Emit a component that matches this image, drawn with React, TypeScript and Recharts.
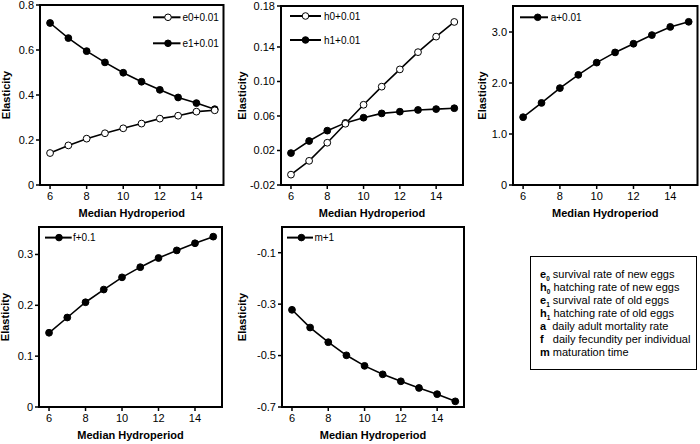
import React from 'react';
import { LineChart, Line, XAxis, YAxis, ReferenceArea, Legend } from 'recharts';

// ---------- data ----------
const hydroperiod = [6, 7, 8, 9, 10, 11, 12, 13, 14, 15];
const e0Values = [0.142, 0.176, 0.206, 0.230, 0.252, 0.273, 0.295, 0.308, 0.326, 0.332];
const e1Values = [0.720, 0.653, 0.595, 0.545, 0.499, 0.459, 0.423, 0.389, 0.364, 0.337];
const h0Values = [-0.008, 0.008, 0.029, 0.051, 0.073, 0.094, 0.114, 0.134, 0.152, 0.169];
const h1Values = [0.017, 0.031, 0.043, 0.052, 0.058, 0.063, 0.065, 0.067, 0.068, 0.069];
const aValues = [1.33, 1.61, 1.90, 2.16, 2.40, 2.60, 2.77, 2.94, 3.10, 3.20];
const fValues = [0.146, 0.176, 0.206, 0.231, 0.255, 0.275, 0.293, 0.308, 0.322, 0.335];
const mValues = [-0.322, -0.391, -0.448, -0.499, -0.540, -0.573, -0.600, -0.626, -0.650, -0.678];

const xTicks = [6, 8, 10, 12, 14];
const xDomain: [number, number] = [5.45, 15.48];

const ticksP1 = [0, 0.2, 0.4, 0.6, 0.8];
const labelsP1 = ['0', '0.2', '0.4', '0.6', '0.8'];
const ticksP2 = [-0.02, 0.02, 0.06, 0.10, 0.14, 0.1875];
const labelsP2 = ['-0.02', '0.02', '0.06', '0.10', '0.14', '0.18'];
const ticksP3 = [0, 1, 2, 3];
const labelsP3 = ['0', '1.0', '2.0', '3.0'];
const ticksP4 = [0, 0.1, 0.2, 0.3];
const labelsP4 = ['0', '0.1', '0.2', '0.3'];
const ticksP5 = [-0.7, -0.5, -0.3, -0.1];
const labelsP5 = ['-0.7', '-0.5', '-0.3', '-0.1'];

const legendRows = [
  { sym: 'e', sub: '0', text: ' survival rate of new eggs' },
  { sym: 'h', sub: '0', text: ' hatching rate of new eggs' },
  { sym: 'e', sub: '1', text: ' survival rate of old eggs' },
  { sym: 'h', sub: '1', text: ' hatching rate of old eggs' },
  { sym: 'a', sub: '', text: '\u00a0 daily adult mortality rate' },
  { sym: 'f', sub: '', text: '\u00a0\u00a0 daily fecundity per individual' },
  { sym: 'm', sub: '', text: ' maturation time' },
];

// ---------- helpers ----------
type Series = { key: string; name: string; values: number[]; open: boolean };

type LegendGeom = { x: number; lineW: number; cx: number; tx: number; y0: number; dy: number; w: number };

type PanelProps = {
  left: number;
  top: number;
  w: number;
  h: number;
  yDomain: [number, number];
  yTicks: number[];
  yLabels: string[];
  series: Series[]; // drawing order
  legendOrder: string[];
  legend: LegendGeom;
  yLabelDist: number;
};

const ML = 52;
const MT = 6;
const MR = 6;
const XH = 40;

function Panel(p: PanelProps) {
  const data = hydroperiod.map((x, i) => {
    const row: Record<string, number> = { x };
    p.series.forEach((s) => {
      row[s.key] = s.values[i];
    });
    return row;
  });
  const byKey: Record<string, Series> = {};
  p.series.forEach((s) => (byKey[s.key] = s));

  const legendContent = (props: any) => {
    const payload: any[] = props.payload || [];
    const items = p.legendOrder.map(
      (k) => payload.find((e) => e.dataKey === k) || { dataKey: k, value: byKey[k].name }
    );
    const g = p.legend;
    return (
      <svg width={g.w} height={g.y0 + g.dy * items.length} style={{ display: 'block', overflow: 'visible' }}>
        {items.map((it: any, i: number) => {
          const s = byKey[it.dataKey];
          const y = g.y0 + i * g.dy;
          return (
            <g key={it.dataKey}>
              <line x1={0} x2={g.lineW} y1={y} y2={y} stroke="#000" strokeWidth={2} />
              <circle cx={g.cx} cy={y} r={3.3} fill={s.open ? '#fff' : '#000'} stroke="#000" strokeWidth={1} />
              <text x={g.tx} y={y} dy="0.35em" fontSize={10} fill="#000">
                {s.name}
              </text>
            </g>
          );
        })}
      </svg>
    );
  };

  return (
    <div style={{ position: 'absolute', left: p.left - ML, top: p.top - MT }}>
      <LineChart
        width={ML + p.w + MR}
        height={MT + p.h + XH}
        data={data}
        margin={{ top: MT, right: MR, left: 0, bottom: 0 }}
      >
        <XAxis
          dataKey="x"
          type="number"
          domain={xDomain}
          ticks={xTicks}
          interval={0}
          height={XH}
          tickSize={4}
          tickMargin={3}
          axisLine={{ stroke: '#000', strokeWidth: 2 }}
          tickLine={{ stroke: '#000', strokeWidth: 1.5 }}
          tick={{ fontSize: 11, fill: '#000' }}
          label={{
            value: 'Median Hydroperiod',
            position: 'insideBottom',
            offset: 8,
            style: { fontSize: 11, fontWeight: 'bold', fill: '#000' },
          }}
        />
        <YAxis
          type="number"
          domain={p.yDomain}
          ticks={p.yTicks}
          interval={0}
          width={ML}
          tickSize={4}
          tickMargin={2}
          axisLine={{ stroke: '#000', strokeWidth: 2 }}
          tickLine={{ stroke: '#000', strokeWidth: 1.5 }}
          tick={{ fontSize: 11, fill: '#000' }}
          tickFormatter={(v: number) => {
            const idx = p.yTicks.findIndex((t) => Math.abs(t - v) < 1e-9);
            return idx >= 0 ? p.yLabels[idx] : String(v);
          }}
          label={{
            value: 'Elasticity',
            angle: -90,
            position: 'insideLeft',
            offset: ML - p.yLabelDist,
            style: { fontSize: 11, fontWeight: 'bold', fill: '#000', textAnchor: 'middle' },
          }}
        />
        <ReferenceArea
          x1={xDomain[0]}
          x2={xDomain[1]}
          y1={p.yDomain[0]}
          y2={p.yDomain[1]}
          fill="none"
          fillOpacity={0}
          stroke="#000"
          strokeWidth={2}
        />
        {p.series.map((s) => (
          <Line
            key={s.key}
            dataKey={s.key}
            name={s.name}
            type="linear"
            stroke="#000"
            strokeWidth={1.6}
            dot={{ r: 3.4, fill: s.open ? '#fff' : '#000', stroke: '#000', strokeWidth: 1 }}
            isAnimationActive={false}
          />
        ))}
        <Legend
          layout="vertical"
          align="center"
          verticalAlign="middle"
          content={legendContent}
          wrapperStyle={{ left: ML + p.legend.x, top: MT, width: p.legend.w, height: 'auto' }}
        />
      </LineChart>
    </div>
  );
}

export default function App() {
  return (
    <div
      style={{
        position: 'absolute',
        left: 0,
        top: 0,
        width: 700,
        height: 444,
        background: '#fff',
        fontFamily: '"Liberation Sans", Arial, sans-serif',
        overflow: 'hidden',
      }}
    >
      <Panel
        left={39.5}
        top={5}
        w={183.5}
        h={180}
        yDomain={[0, 0.8]}
        yTicks={ticksP1}
        yLabels={labelsP1}
        series={[
          { key: 'e1', name: 'e1+0.01', values: e1Values, open: false },
          { key: 'e0', name: 'e0+0.01', values: e0Values, open: true },
        ]}
        legendOrder={['e0', 'e1']}
        legend={{ x: 113, lineW: 27.5, cx: 15, tx: 29.5, y0: 12.3, dy: 26, w: 72 }}
        yLabelDist={34}
      />
      <Panel
        left={281}
        top={6}
        w={182}
        h={179}
        yDomain={[-0.02, 0.1875]}
        yTicks={ticksP2}
        yLabels={labelsP2}
        series={[
          { key: 'h1', name: 'h1+0.01', values: h1Values, open: false },
          { key: 'h0', name: 'h0+0.01', values: h0Values, open: true },
        ]}
        legendOrder={['h0', 'h1']}
        legend={{ x: 9, lineW: 31, cx: 15.5, tx: 34, y0: 10, dy: 24, w: 80 }}
        yLabelDist={39.3}
      />
      <Panel
        left={513}
        top={6}
        w={184.5}
        h={179}
        yDomain={[0, 3.51]}
        yTicks={ticksP3}
        yLabels={labelsP3}
        series={[{ key: 'a', name: 'a+0.01', values: aValues, open: false }]}
        legendOrder={['a']}
        legend={{ x: 6.6, lineW: 28, cx: 17.7, tx: 30.7, y0: 11.3, dy: 24, w: 70 }}
        yLabelDist={31.3}
      />
      <Panel
        left={39}
        top={226.7}
        w={183}
        h={180}
        yDomain={[0, 0.354]}
        yTicks={ticksP4}
        yLabels={labelsP4}
        series={[{ key: 'f', name: 'f+0.1', values: fValues, open: false }]}
        legendOrder={['f']}
        legend={{ x: 6, lineW: 26.7, cx: 14, tx: 28, y0: 10.6, dy: 24, w: 60 }}
        yLabelDist={34}
      />
      <Panel
        left={281.7}
        top={226.7}
        w={182}
        h={180}
        yDomain={[-0.7, 0]}
        yTicks={ticksP5}
        yLabels={labelsP5}
        series={[{ key: 'm', name: 'm+1', values: mValues, open: false }]}
        legendOrder={['m']}
        legend={{ x: 5.6, lineW: 26, cx: 14.4, tx: 27.4, y0: 10.6, dy: 24, w: 60 }}
        yLabelDist={40}
      />
      <div
        style={{
          position: 'absolute',
          left: 530,
          top: 256,
          width: 167,
          height: 114,
          border: '1.5px solid #000',
          boxSizing: 'border-box',
          fontSize: 11,
          lineHeight: '13px',
          padding: '11px 0 0 9px',
          color: '#000',
          whiteSpace: 'nowrap',
        }}
      >
        {legendRows.map((r, i) => (
          <div key={i}>
            <b>{r.sym}</b>
            {r.sub ? <sub style={{ fontSize: 6.5, lineHeight: 0, fontWeight: 'bold' }}>{r.sub}</sub> : null}
            {r.text}
          </div>
        ))}
      </div>
    </div>
  );
}
